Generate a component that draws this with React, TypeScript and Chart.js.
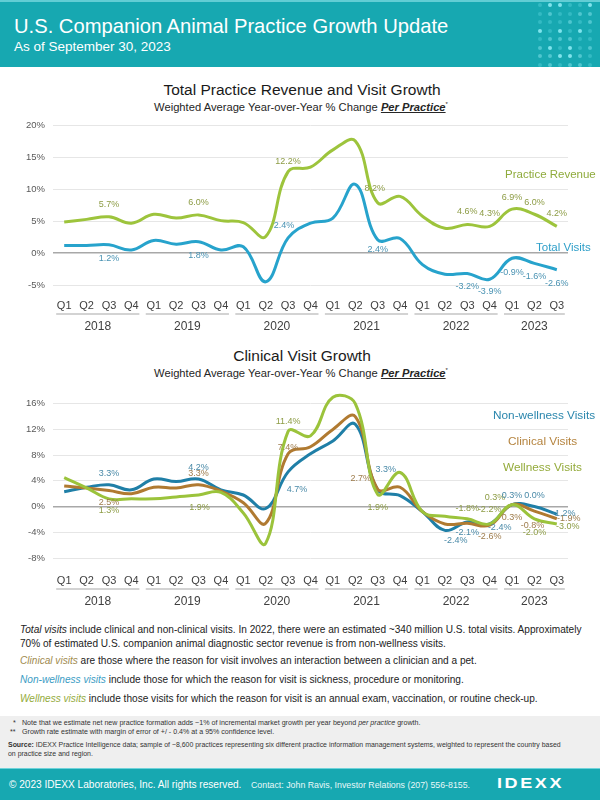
import React, { useEffect, useRef } from 'react';
import { Chart, registerables } from 'chart.js';

Chart.register(...registerables);

// ---------- DATA ----------
const quarters = ['Q1', 'Q2', 'Q3', 'Q4', 'Q1', 'Q2', 'Q3', 'Q4', 'Q1', 'Q2', 'Q3', 'Q4', 'Q1', 'Q2', 'Q3', 'Q4', 'Q1', 'Q2', 'Q3', 'Q4', 'Q1', 'Q2', 'Q3'];
const years = ['2018', '2019', '2020', '2021', '2022', '2023'];

const topTicks = [-5, 0, 5, 10, 15, 20];
const bottomTicks = [-8, -4, 0, 4, 8, 12, 16];

const practiceRevenue = [4.9, 5.3, 5.7, 4.7, 6.1, 5.5, 6.0, 5.1, 4.8, 2.6, 12.8, 13.5, 16.2, 17.6, 7.9, 8.9, 5.8, 3.9, 4.5, 4.2, 6.9, 6.1, 4.2];
const totalVisits = [1.2, 1.2, 1.3, 0.5, 2.0, 1.4, 1.8, 0.5, 1.0, -4.5, 2.4, 4.7, 5.5, 10.8, 2.1, 2.3, -1.8, -3.3, -3.2, -4.1, -0.8, -1.6, -2.6];

const practiceRevenueLabels = [null, null, '5.7%', null, null, null, '6.0%', null, null, null, '12.2%', null, null, null, '8.2%', null, null, null, '4.6%', '4.3%', '6.9%', '6.0%', '4.2%'];
const totalVisitsLabels = [null, null, '1.2%', null, null, null, '1.8%', null, null, null, '2.4%', null, null, null, '2.4%', null, null, null, '-3.2%', '-3.9%', '-0.9%', '-1.6%', '-2.6%'];

const nonWellnessVisits = [2.3, 3.0, 3.4, 2.6, 4.3, 3.9, 4.3, 2.6, 1.8, -0.3, 5.4, 8.2, 10.2, 12.8, 2.6, 1.7, -0.8, -3.7, -2.4, -2.7, 0.3, 0.0, -1.2];
const clinicalVisits = [3.2, 2.9, 2.5, 2.0, 3.0, 2.9, 3.4, 2.4, 0.6, -2.6, 8.2, 9.3, 12.0, 14.0, 2.7, 3.0, -0.8, -2.7, -2.6, -2.9, 0.3, -0.7, -1.9];
const wellnessVisits = [4.5, 2.9, 1.2, 1.2, 1.2, 1.5, 1.8, 2.2, -1.0, -5.7, 11.7, 11.0, 17.0, 16.0, 1.9, 5.3, -0.8, -1.5, -1.9, -2.7, 0.3, -1.9, -2.7];

const nonWellnessLabels = [null, null, '3.3%', null, null, null, '4.2%', null, null, null, '4.7%', null, null, null, '3.3%', null, null, '-2.4%', '-2.1%', '-2.4%', '0.3%', '0.0%', '-1.2%'];
const clinicalLabels = [null, null, '2.5%', null, null, null, '3.3%', null, null, null, '7.4%', null, null, null, '2.7%', null, null, null, null, '-2.6%', '0.3%', '-0.8%', '-1.9%'];
const wellnessLabels = [null, null, '1.3%', null, null, null, '1.9%', null, null, null, '11.4%', null, null, null, '1.9%', null, null, null, '-1.8%', '-2.2%', '0.3%', '-2.0%', '-3.0%'];

// ---------- STYLE ----------
const FONT = '"Liberation Sans", Arial, Helvetica, sans-serif';
const TEAL = '#17a8b1';

const C_REV = '#9dc43c';
const C_TOT = '#27a3cc';
const C_NONW = '#1f7fa7';
const C_CLIN = '#b07a31';
const C_WELL = '#9bc33b';

// label offsets (pixels) keyed by point index
const offRev: Record<number, [number, number]> = { 2: [0, -12], 6: [0, -12], 10: [0, -10], 14: [-3, -14], 18: [0, -13], 19: [0, -13], 20: [0, -12], 21: [0, -12], 22: [0, -13] };
const offTot: Record<number, [number, number]> = { 2: [0, 14], 6: [0, 14], 10: [-4, -12], 14: [0, 10], 18: [0, 13], 19: [0, 12], 20: [0, 14], 21: [0, 13], 22: [0, 14] };
const offNonW: Record<number, [number, number]> = { 2: [0, -11], 6: [0, -11], 10: [9, 18], 14: [8, -20], 17: [11, 10], 18: [0, 11], 19: [10, 4], 20: [0, -9], 21: [0, -11], 22: [7, -1] };
const offClin: Record<number, [number, number]> = { 2: [0, 12], 6: [0, -11], 10: [0, -6], 14: [-17, -11], 19: [0, 11], 20: [0, 13], 21: [-2, 14], 22: [12, 0] };
const offWell: Record<number, [number, number]> = { 2: [0, 12], 6: [1, 13], 10: [0, -10], 14: [0, 13], 18: [0, -10], 19: [0, -14], 20: [-17, -7], 21: [0, 14], 22: [11, 3] };

const pointLabelPlugin = {
  id: 'pointLabels',
  afterDatasetsDraw(chart: any) {
    const ctx = chart.ctx;
    chart.data.datasets.forEach((ds: any, di: number) => {
      const meta = chart.getDatasetMeta(di);
      if (!ds.pointLabels) return;
      ctx.save();
      ctx.font = `9px ${FONT}`;
      ctx.fillStyle = ds.labelColor;
      ctx.textAlign = 'center';
      ctx.textBaseline = 'middle';
      ds.pointLabels.forEach((txt: string | null, i: number) => {
        if (!txt) return;
        const el = meta.data[i];
        const off = (ds.labelOffsets && ds.labelOffsets[i]) || [0, -12];
        ctx.fillText(txt, el.x + off[0], el.y + off[1]);
      });
      ctx.restore();
    });
  },
};

const yearPlugin = {
  id: 'yearGroups',
  afterDraw(chart: any) {
    const opts = chart.options.plugins.yearGroups;
    if (!opts) return;
    const x = chart.scales.x;
    const ctx = chart.ctx;
    const bottom = chart.chartArea.bottom;
    const groups: { start: number; end: number }[] = [];
    quarters.forEach((q, i) => {
      if (q === 'Q1') groups.push({ start: i, end: i });
      else groups[groups.length - 1].end = i;
    });
    ctx.save();
    groups.forEach((g, gi) => {
      const x0 = x.getPixelForValue(g.start) - 8;
      const x1 = x.getPixelForValue(g.end) + 8;
      ctx.strokeStyle = '#c4c4c4';
      ctx.lineWidth = 1.5;
      ctx.beginPath();
      ctx.moveTo(x0, bottom + opts.lineOffset);
      ctx.lineTo(x1, bottom + opts.lineOffset);
      ctx.stroke();
      ctx.fillStyle = '#404040';
      ctx.font = `12px ${FONT}`;
      ctx.textAlign = 'center';
      ctx.textBaseline = 'middle';
      ctx.fillText(years[gi], (x0 + x1) / 2, bottom + opts.textOffset);
    });
    ctx.restore();
  },
};

function makeConfig(datasets: any[], ticks: number[], padTop: number, xHeight: number, xPad: number, lineOffset: number, textOffset: number) {
  return {
    type: 'line' as const,
    data: {
      labels: quarters,
      datasets: datasets.map((d) => ({
        data: d.data,
        borderColor: d.color,
        borderWidth: 3,
        pointRadius: 0,
        tension: 0.4,
        fill: false,
        clip: false,
        pointLabels: d.labels,
        labelColor: d.labelColor,
        labelOffsets: d.offsets,
      })),
    },
    options: {
      animation: false,
      responsive: true,
      maintainAspectRatio: false,
      layout: { padding: { top: padTop, right: 32, left: 0, bottom: 0 } },
      plugins: {
        legend: { display: false },
        tooltip: { enabled: false },
        yearGroups: { lineOffset, textOffset },
      },
      scales: {
        x: {
          type: 'category',
          offset: true,
          grid: { display: false, drawTicks: false },
          border: { display: false },
          ticks: { color: '#404040', font: { family: FONT, size: 11 }, padding: xPad, maxRotation: 0, autoSkip: false },
          afterFit: (s: any) => { s.height = xHeight; },
        },
        y: {
          min: ticks[0],
          max: ticks[ticks.length - 1],
          afterBuildTicks: (s: any) => { s.ticks = ticks.map((v) => ({ value: v })); },
          grid: {
            drawTicks: false,
            color: (c: any) => (c.tick && c.tick.value === 0 ? '#a8a8a8' : '#e6e6e6'),
            lineWidth: (c: any) => (c.tick && c.tick.value === 0 ? 1.4 : 1),
          },
          border: { display: false },
          ticks: { color: '#595959', font: { family: FONT, size: 9.5 }, padding: 8, callback: (v: any) => `${v}%` },
          afterFit: (s: any) => { s.width = 53; },
        },
      },
    },
    plugins: [pointLabelPlugin, yearPlugin],
  };
}

function ChartBox({ top, height, config }: { top: number; height: number; config: () => any }) {
  const ref = useRef<HTMLCanvasElement>(null);
  useEffect(() => {
    const chart = new Chart(ref.current as HTMLCanvasElement, config());
    return () => chart.destroy();
  }, []);
  return (
    <div style={{ position: 'absolute', left: 0, top, width: 600, height }}>
      <canvas ref={ref} />
    </div>
  );
}

const abs = (s: React.CSSProperties): React.CSSProperties => ({ position: 'absolute', whiteSpace: 'nowrap', lineHeight: 1, ...s });

const dotRows = [
  '011001',
  '010011',
  '000101',
  '101010',
  '011100',
  '100101',
  '111010',
  '010110',
];
const brightDots: Record<string, boolean> = { '0-1': true, '0-2': true, '0-5': true, '3-0': true, '3-2': true, '3-4': true, '5-1': true, '5-3': true, '6-2': true, '6-3': true };

function Subtitle({ top }: { top: number }) {
  return (
    <div style={abs({ left: 1, top, width: 600, textAlign: 'center', fontSize: 11.2, color: '#262626' })}>
      Weighted Average Year-over-Year % Change{' '}
      <span style={{ fontWeight: 'bold', fontStyle: 'italic', textDecoration: 'underline' }}>Per Practice</span>
      <sup style={{ fontSize: 6 }}>*</sup>
    </div>
  );
}

export default function App() {
  const topConfig = () =>
    makeConfig(
      [
        { data: practiceRevenue, color: C_REV, labels: practiceRevenueLabels, labelColor: '#8d9c45', offsets: offRev },
        { data: totalVisits, color: C_TOT, labels: totalVisitsLabels, labelColor: '#4a93b3', offsets: offTot },
      ],
      topTicks, 13, 57, 14, 29, 42,
    );
  const bottomConfig = () =>
    makeConfig(
      [
        { data: wellnessVisits, color: C_WELL, labels: wellnessLabels, labelColor: '#8d9c45', offsets: offWell },
        { data: clinicalVisits, color: C_CLIN, labels: clinicalLabels, labelColor: '#9e7c4c', offsets: offClin },
        { data: nonWellnessVisits, color: C_NONW, labels: nonWellnessLabels, labelColor: '#4a8aa8', offsets: offNonW },
      ],
      bottomTicks, 12, 60, 16, 31, 44,
    );

  const note: React.CSSProperties = { fontSize: 7.1, color: '#333' };

  return (
    <div style={{ position: 'absolute', left: 0, top: 0, width: 600, height: 800, background: '#fff', fontFamily: FONT, overflow: 'hidden' }}>
      {/* header */}
      <div style={{ position: 'absolute', left: 0, top: 0, width: 600, height: 67, background: TEAL, borderTop: '2px solid #62cdd4', boxSizing: 'border-box' }}>
        {dotRows.map((row, r) =>
          row.split('').map((c, k) => (
            <div
              key={`${r}-${k}`}
              style={{
                position: 'absolute',
                left: 538 + k * 10,
                top: 1 + r * 8.5,
                width: 4,
                height: 4,
                borderRadius: 2,
                background: brightDots[`${r}-${k}`] ? '#7fe3ec' : c === '1' ? '#4fc6cf' : '#33bac3',
              }}
            />
          )),
        )}
      </div>
      <div style={abs({ left: 14, top: 16, fontSize: 20.2, color: '#fff' })}>U.S. Companion Animal Practice Growth Update</div>
      <div style={abs({ left: 14, top: 40, fontSize: 13.5, color: '#fff' })}>As of September 30, 2023</div>

      {/* top chart */}
      <div style={abs({ left: 2, top: 82, width: 600, textAlign: 'center', fontSize: 15.5, color: '#1a1a1a' })}>Total Practice Revenue and Visit Growth</div>
      <Subtitle top={101} />
      <ChartBox top={112} height={230} config={topConfig} />
      <div style={abs({ left: 505, top: 169, fontSize: 11.5, color: '#8fab3c' })}>Practice Revenue</div>
      <div style={abs({ left: 536, top: 242, fontSize: 11.5, color: '#2f9fc9' })}>Total Visits</div>

      {/* bottom chart */}
      <div style={abs({ left: 2, top: 348, width: 600, textAlign: 'center', fontSize: 15.5, color: '#1a1a1a' })}>Clinical Visit Growth</div>
      <Subtitle top={367} />
      <ChartBox top={390} height={228} config={bottomConfig} />
      <div style={abs({ left: 493, top: 410, fontSize: 11.8, color: '#2a86ad' })}>Non-wellness Visits</div>
      <div style={abs({ left: 508, top: 436, fontSize: 11.8, color: '#b5843f' })}>Clinical Visits</div>
      <div style={abs({ left: 503, top: 462, fontSize: 11.8, color: '#94ab3b' })}>Wellness Visits</div>

      {/* notes */}
      <div style={abs({ left: 20, top: 623, fontSize: 10.1, color: '#222', lineHeight: '14px' })}>
        <i>Total visits</i> include clinical and non-clinical visits. In 2022, there were an estimated ~340 million U.S. total visits. Approximately
        <br />
        70% of estimated U.S. companion animal diagnostic sector revenue is from non-wellness visits.
      </div>
      <div style={abs({ left: 20, top: 656, fontSize: 10.1, color: '#222' })}>
        <i style={{ color: '#a08a4e' }}>Clinical visits</i> are those where the reason for visit involves an interaction between a clinician and a pet.
      </div>
      <div style={abs({ left: 20, top: 675, fontSize: 10.1, color: '#222' })}>
        <i style={{ color: '#3a9cc4' }}>Non-wellness visits</i> include those for which the reason for visit is sickness, procedure or monitoring.
      </div>
      <div style={abs({ left: 20, top: 694, fontSize: 10.1, color: '#222' })}>
        <i style={{ color: '#94ab3b' }}>Wellness visits</i> include those visits for which the reason for visit is an annual exam, vaccination, or routine check-up.
      </div>

      {/* gray footnote band */}
      <div style={{ position: 'absolute', left: 0, top: 716, width: 600, height: 52, background: '#efefef' }} />
      <div style={abs({ left: 13, top: 720, ...note })}>*</div>
      <div style={abs({ left: 22, top: 720, ...note })}>
        Note that we estimate net new practice formation adds ~1% of incremental market growth per year beyond <i>per practice</i> growth.
      </div>
      <div style={abs({ left: 10, top: 729, ...note })}>**</div>
      <div style={abs({ left: 22, top: 729, ...note })}>Growth rate estimate with margin of error of +/ - 0.4% at a 95% confidence level.</div>
      <div style={abs({ left: 8, top: 742, ...note, fontSize: 6.95 })}>
        <b>Source:</b> IDEXX Practice Intelligence data; sample of ~8,600 practices representing six different practice information management systems, weighted to represent the country based
      </div>
      <div style={abs({ left: 8, top: 751, ...note, fontSize: 6.95 })}>on practice size and region.</div>

      {/* footer */}
      <div style={{ position: 'absolute', left: 0, top: 768, width: 600, height: 32, background: TEAL, borderTop: '1px solid #6fd3da', boxSizing: 'border-box' }} />
      <div style={abs({ left: 9, top: 780, fontSize: 10.1, color: '#fff' })}>© 2023 IDEXX Laboratories, Inc. All rights reserved.</div>
      <div style={abs({ left: 251, top: 781, fontSize: 8.8, color: '#e8f8f9' })}>Contact: John Ravis, Investor Relations (207) 556-8155.</div>
      <div style={abs({ left: 497, top: 774, fontSize: 18, fontWeight: 900, color: '#fff', letterSpacing: 2.6, transform: 'scaleY(0.82)' })}>IDEXX</div>
    </div>
  );
}
